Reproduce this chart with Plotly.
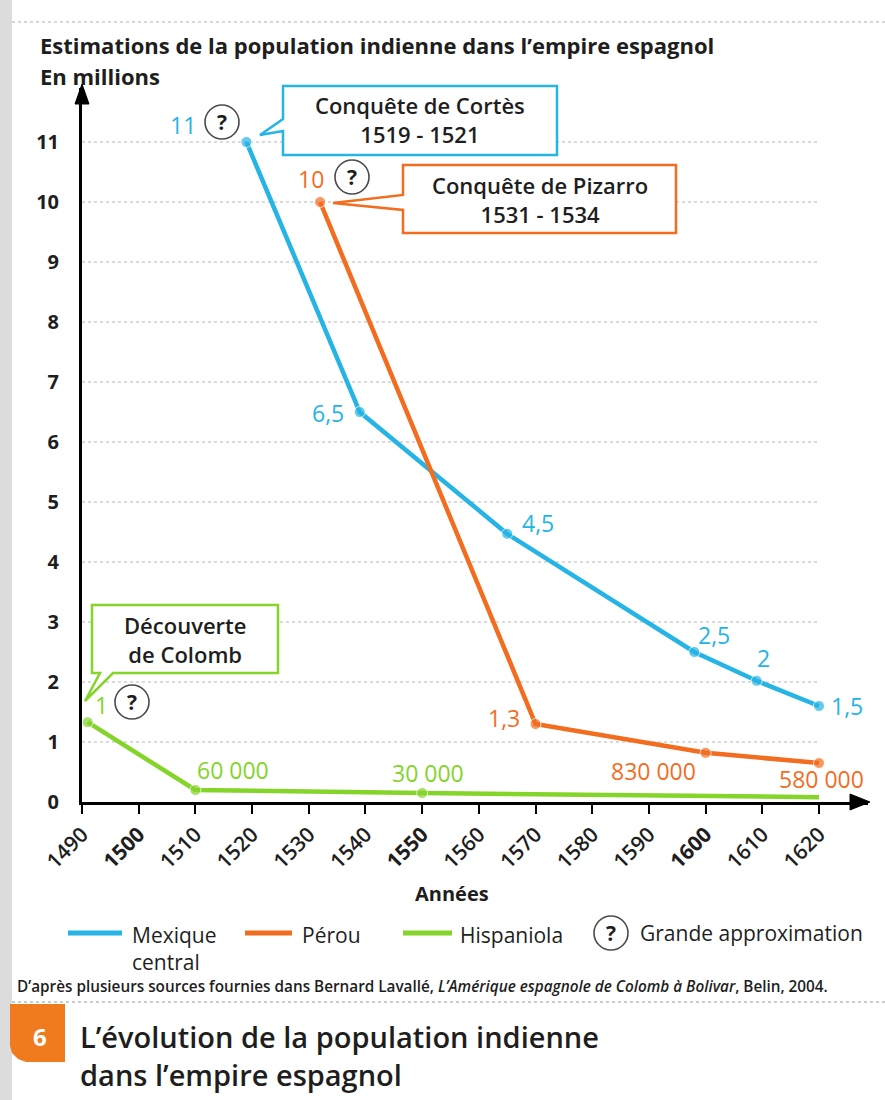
import plotly.graph_objects as go

# ---------------- data ----------------
years_mex = [1519, 1539, 1565, 1598, 1609, 1620]
pop_mex = [11.0, 6.5, 4.47, 2.5, 2.02, 1.6]
labels_mex = ["11", "6,5", "4,5", "2,5", "2", "1,5"]

years_per = [1532, 1570, 1600, 1620]
pop_per = [10.0, 1.3, 0.82, 0.65]
labels_per = ["10", "1,3", "830 000", "580 000"]

years_his = [1491, 1510, 1550, 1620]
pop_his = [1.33, 0.2, 0.15, 0.08]
labels_his = ["1", "60 000", "30 000", ""]

x_ticks = list(range(1490, 1621, 10))
x_bold = [1500, 1550, 1600]
y_ticks = list(range(0, 12))

series_names = ["Mexique<br>central", "Pérou", "Hispaniola"]

# ---------------- style ----------------
CYAN = "#25b4e4"
ORANGE = "#f26d1f"
GREEN = "#84d42a"
DARK = "#1e1e1e"
FONT = "Open Sans"

W, H = 885, 1100
L, R, T, B = 82, 868, 88, 802
X0 = 1490
PX_PER_YEAR = (819 - 82) / 130.0
XMAX = X0 + (R - L) / PX_PER_YEAR
PX_PER_UNIT = 60.0
YMAX = (B - T) / PX_PER_UNIT


def PX(x):
    return (x - L) / (R - L)


def PY(y):
    return (B - y) / (B - T)


def path(points):
    return "M " + " L ".join(f"{PX(x):.5f},{PY(y):.5f}" for x, y in points) + " Z"


def text_at(x, y, text, size, color=DARK, weight=400, xanchor="center", yanchor="middle",
            align="center"):
    return dict(x=PX(x), y=PY(y), xref="paper", yref="paper", text=text, showarrow=False,
                xanchor=xanchor, yanchor=yanchor, align=align,
                font=dict(family=FONT, size=size, color=color, weight=weight))


fig = go.Figure()

# series
for xs, ys, col, name, sizes in [
    (years_mex, pop_mex, CYAN, series_names[0], [11] * len(years_mex)),
    (years_per, pop_per, ORANGE, series_names[1], [11] * len(years_per)),
    (years_his, pop_his, GREEN, series_names[2], [11, 11, 11, 0]),
]:
    fig.add_trace(go.Scatter(
        x=xs, y=ys, mode="lines+markers", name=name,
        line=dict(color=col, width=4.5),
        marker=dict(color=col, size=sizes),
        showlegend=False, cliponaxis=False,
    ))

shapes = []
ann = []

# gridlines (dotted, only over the data span)
for v in y_ticks[1:]:
    shapes.append(dict(type="line", xref="x", yref="y", x0=x_ticks[0], x1=x_ticks[-1],
                       y0=v, y1=v, line=dict(color="#b5b5b5", width=1, dash="dot"), layer="below"))

# axis arrow heads
shapes.append(dict(type="path", xref="paper", yref="paper",
                   path=path([(R + 2, B), (R - 18, B - 8), (R - 18, B + 8)]),
                   fillcolor="black", line=dict(color="black", width=1)))
shapes.append(dict(type="path", xref="paper", yref="paper",
                   path=path([(L, T - 4), (L - 7, T + 16), (L + 7, T + 16)]),
                   fillcolor="black", line=dict(color="black", width=1)))

# value labels attached to points
mex_off = [(-63, 17), (-32, -1), (31, 11), (20, 17), (7, 23), (28, 0)]
per_off = [(-9, 23), (-32, 6), (-52, -18), (2, -16)]
his_off = [(14, 17), (38, 20), (6, 20), (0, 0)]
for xs, ys, labs, offs, col in [
    (years_mex, pop_mex, labels_mex, mex_off, CYAN),
    (years_per, pop_per, labels_per, per_off, ORANGE),
    (years_his, pop_his, labels_his, his_off, GREEN),
]:
    for x, y, t, (dx, dy) in zip(xs, ys, labs, offs):
        if not t:
            continue
        ann.append(dict(x=x, y=y, xref="x", yref="y", text=t, showarrow=False,
                        xanchor="center", yanchor="middle",
                        xshift=dx, yshift=dy, font=dict(family=FONT, size=23, color=col)))


# "?" circles (grande approximation)
def qmark(cx, cy):
    r = 17
    shapes.append(dict(type="circle", xref="paper", yref="paper",
                       x0=PX(cx - r), x1=PX(cx + r), y0=PY(cy + r), y1=PY(cy - r),
                       line=dict(color="#4a4a4a", width=1.6), fillcolor="white"))
    ann.append(text_at(cx, cy, "?", 21, weight=700))


qmark(222, 122)
qmark(352, 177)
qmark(132, 702)


# callout bubbles
def bubble(pts, col, cx, cy, text):
    shapes.append(dict(type="path", xref="paper", yref="paper", path=path(pts),
                       fillcolor="white", line=dict(color=col, width=2.5)))
    ann.append(text_at(cx, cy, text, 22, weight=600))


bubble([(283, 86), (557, 86), (557, 155), (283, 155), (283, 131), (260, 135), (283, 119)],
       CYAN, 420, 120, "Conquête de Cortès<br>1519 - 1521")
bubble([(403, 165), (676, 165), (676, 233), (403, 233), (403, 210), (333, 203), (403, 195)],
       ORANGE, 540, 199, "Conquête de Pizarro<br>1531 - 1534")
bubble([(92, 605), (278, 605), (278, 673), (113, 673), (85, 701), (100, 673), (92, 673)],
       GREEN, 185, 639, "Découverte<br>de Colomb")

# titles
ann.append(text_at(38, 45, "Estimations de la population indienne dans l’empire espagnol",
                   22, weight=700, xanchor="left"))
ann.append(text_at(38, 76, "En millions", 22, weight=700, xanchor="left"))
ann.append(text_at(452, 893, "Années", 20, weight=700))

# legend (manual)
leg_y = 933
for (x0, x1, tx), col, name in zip([(68, 122, 130), (245, 292, 300), (403, 452, 458)],
                                   [CYAN, ORANGE, GREEN], series_names):
    shapes.append(dict(type="line", xref="paper", yref="paper", x0=PX(x0), x1=PX(x1),
                       y0=PY(leg_y), y1=PY(leg_y), line=dict(color=col, width=5)))
    ann.append(text_at(tx, leg_y - 14, name, 21, weight=500, xanchor="left", yanchor="top",
                       align="left"))
qmark(611, leg_y)
ann.append(text_at(638, leg_y, "Grande approximation", 21, weight=500, xanchor="left"))

# source
ann.append(text_at(15, 986,
                   "D’après plusieurs sources fournies dans Bernard Lavallé, "
                   "<i>L’Amérique espagnole de Colomb à Bolivar</i>, Belin, 2004.",
                   15.3, weight=600, xanchor="left"))

# page decorations
shapes.append(dict(type="line", xref="paper", yref="paper", x0=PX(12), x1=PX(885),
                   y0=PY(1002), y1=PY(1002), line=dict(color="#9a9a9a", width=1.2, dash="dot")))
shapes.append(dict(type="line", xref="paper", yref="paper", x0=PX(12), x1=PX(885),
                   y0=PY(22), y1=PY(22), line=dict(color="#b0b0b0", width=1.2, dash="dot")))
shapes.append(dict(type="rect", xref="paper", yref="paper", x0=PX(0), x1=PX(12),
                   y0=PY(1100), y1=PY(0), fillcolor="#dcdcdc", line=dict(width=0), layer="below"))
shapes.append(dict(type="path", xref="paper", yref="paper",
                   path=path([(10, 1004), (65, 1004), (65, 1062), (26, 1062), (18, 1059),
                              (12, 1053), (10, 1046)]),
                   fillcolor="#f07a1e", line=dict(width=0)))
ann.append(text_at(40, 1036, "6", 24, color="white", weight=700))
ann.append(text_at(78, 1055, "L’évolution de la population indienne<br>dans l’empire espagnol",
                   29, weight=600, xanchor="left", align="left"))

ticktext = [f"<b>{v}</b>" if v in x_bold else str(v) for v in x_ticks]

fig.update_layout(
    width=W, height=H,
    margin=dict(l=L, r=W - R, t=T, b=H - B, autoexpand=False),
    paper_bgcolor="white", plot_bgcolor="rgba(0,0,0,0)",
    font=dict(family=FONT, color=DARK),
    shapes=shapes, annotations=ann, showlegend=False,
    xaxis=dict(range=[X0, XMAX], tickvals=x_ticks, ticktext=ticktext, tickangle=-45,
               ticks="outside", ticklen=9, tickwidth=2, tickcolor="black",
               showline=True, linewidth=3, linecolor="black", showgrid=False, zeroline=False,
               tickfont=dict(family=FONT, size=21, color=DARK, weight=600), fixedrange=True),
    yaxis=dict(range=[0, YMAX], tickvals=y_ticks, ticks="outside", ticklen=16,
               tickcolor="rgba(0,0,0,0)", showline=True, linewidth=3, linecolor="black",
               showgrid=False, zeroline=False,
               tickfont=dict(family=FONT, size=20, color=DARK, weight=700), fixedrange=True),
)

fig.write_html("out.html", config={"displayModeBar": False},
               post_script="document.body.style.margin='0';")
